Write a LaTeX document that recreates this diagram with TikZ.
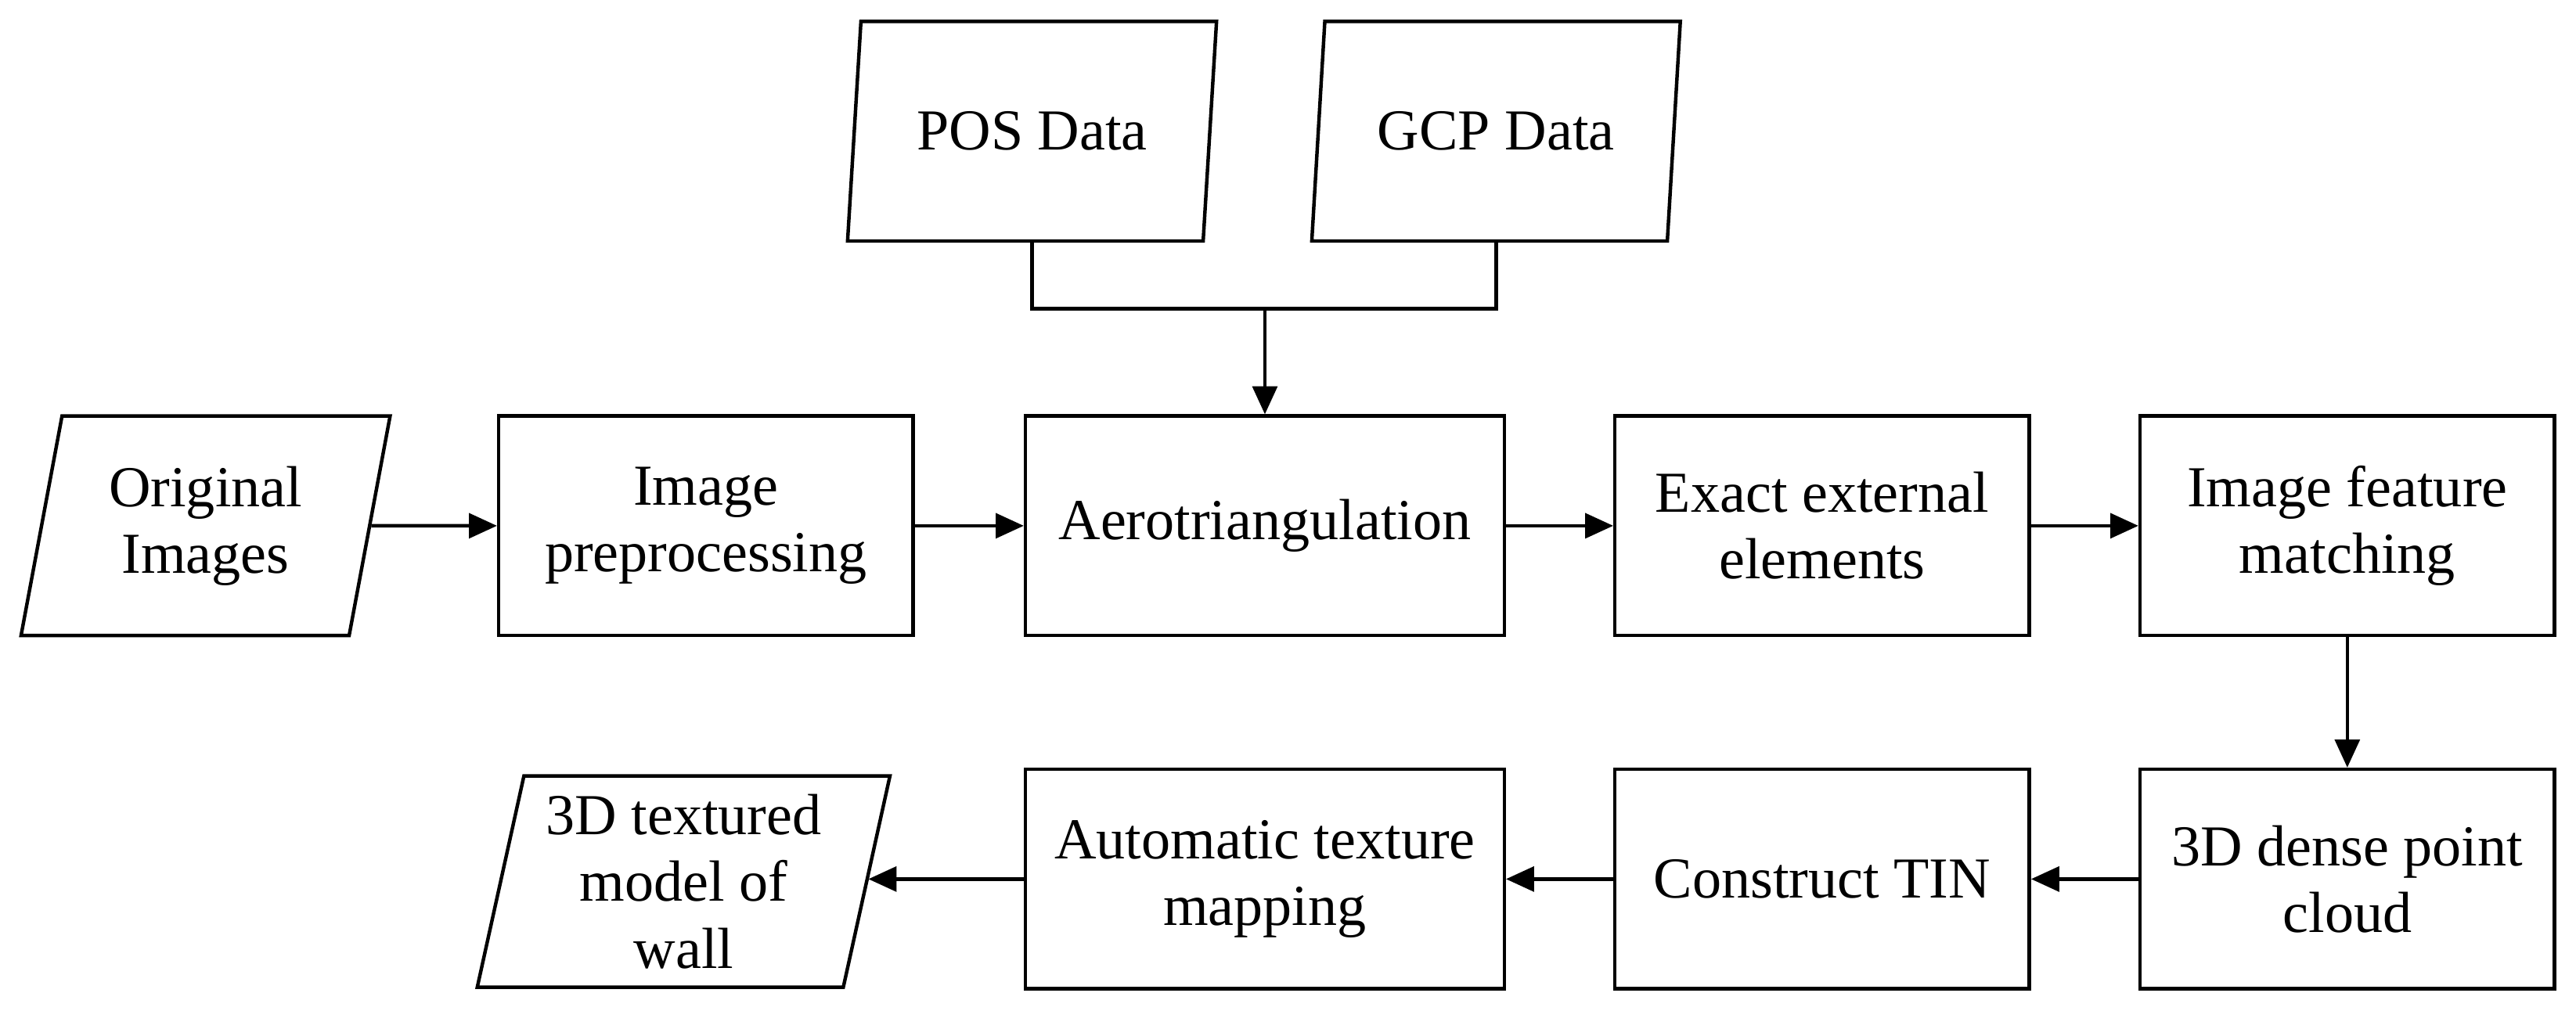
\documentclass[tikz,border=0pt]{standalone}
\usepackage{fontspec}
\setmainfont{Liberation Serif}
\usetikzlibrary{shapes.geometric,arrows.meta}
\begin{document}
\begin{tikzpicture}[x=0.02cm,y=-0.02cm,
  font=\fontsize{20}{23}\selectfont,
  every node/.style={line width=1.2pt,align=center,inner sep=0pt},
  box/.style={draw,rectangle,minimum width=5.02cm,minimum height=2.66cm},
  wide/.style={box,minimum width=5.8cm},
  para/.style={draw,trapezium,trapezium left angle=77,trapezium right angle=103,trapezium stretches=true,minimum width=4.5cm,minimum height=2.66cm},
  arr/.style={line width=1.2pt,-{Triangle[length=0.34cm,width=0.3cm]}},
  ln/.style={line width=1.2pt}]
\useasboundingbox (0,0) rectangle (1560,612);
\node[para] (pos) at (625,79.5) {POS Data};
\node[para] (gcp) at (906,79.5) {GCP Data};
\node[para] (orig) at (124.5,318.5) {Original\\Images};
\node[box] (pre) at (427.5,318.5) {Image\\preprocessing};
\node[wide] (aero) at (766,318.5) {Aerotriangulation};
\node[box] (ext) at (1103.5,318.5) {Exact external\\elements};
\node[box] (feat) at (1421.5,318.5) {Image feature\\matching};
\node[box] (dense) at (1421.5,532.5) {3D dense point\\cloud};
\node[box] (tin) at (1103.5,532.5) {Construct TIN};
\node[wide] (tex) at (766,532.5) {Automatic texture\\mapping};
\node[para,minimum width=5.0cm,minimum height=2.56cm] (model) at (414,534) {3D textured\\model of\\wall};
\coordinate (j) at (766,187);
\draw[ln] (pos.south) |- (j) -| (gcp.south);
\draw[arr] (j) -- (aero.north);
\draw[arr] (orig.east) -- (pre.west);
\draw[arr] (pre) -- (aero);
\draw[arr] (aero) -- (ext);
\draw[arr] (ext) -- (feat);
\draw[arr] (feat) -- (dense);
\draw[arr] (dense) -- (tin);
\draw[arr] (tin) -- (tex);
\draw[arr] (tex.west) -- (tex.west -| model.east);
\end{tikzpicture}
\end{document}
